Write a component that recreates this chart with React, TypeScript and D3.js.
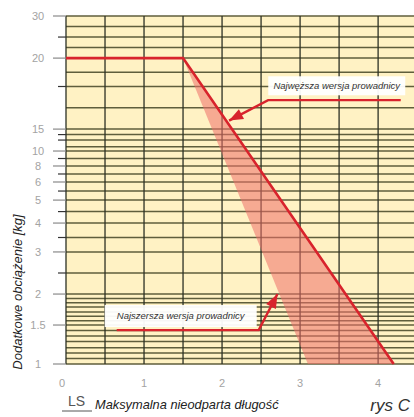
import React from 'react';
import * as d3 from 'd3';

const W = 414;
const H = 417;
const M = { top: 16, right: 0, bottom: 53, left: 66 };

// the original y axis is hand made: labelled stops and their share of the plot height
const yStops = [1, 1.5, 2, 3, 4, 5, 6, 8, 10, 15, 20, 30];
const yStopShare = [0, 0.112, 0.201, 0.322, 0.405, 0.471, 0.523, 0.569, 0.612, 0.675, 0.879, 1];
const yTickLabels = ['1', '1.5', '2', '3', '4', '5', '6', '8', '10', '15', '20', '30'];
const yMinorGrid = [
  1.07, 1.14, 1.21, 1.29, 1.36, 1.43, 1.57, 1.64, 1.71, 1.79, 1.86, 1.93,
  2.5, 3.5, 4.5, 5.5, 7, 9, 11, 12.5, 13.75, 16.5, 18, 19, 22.5, 25, 27.5,
];
const yMinorTicks = [2.5, 3.5, 4.5, 5.5, 7, 9, 12.5, 13.75, 18, 25];

const xTicks = [0, 1, 2, 3, 4];
const xGrid = [0, 0.5, 1, 1.5, 2, 2.5, 3, 3.5, 4];
const xMax = 4.46;

// "Najwęższa" - red line
const narrowX = [0, 1.5, 4.2];
const narrowY = [20, 20, 1];
// "Najszersza" - shaded band
const wideX = [1.5, 3.1, 4.2];
const wideY = [20, 1, 1];

const notes = [
  { text: 'Najwęższa wersja prowadnicy', x: 3.47, y: 18.05, w: 137, h: 19, arrowX: [4.29, 2.59, 2.09], arrowY: [17.04, 17.04, 15.6] },
  { text: 'Najszersza wersja prowadnicy', x: 1.47, y: 1.645, w: 152, h: 22, arrowX: [0.65, 2.47, 2.71], arrowY: [1.434, 1.434, 2] },
];

const RED = '#d8232c';
const FONT = '"Liberation Sans", Arial, sans-serif';

const App = () => {
  const plotH = H - M.top - M.bottom;
  const x = d3.scaleLinear().domain([0, xMax]).range([M.left, W - M.right]);
  const y = d3
    .scaleLinear()
    .domain(yStops)
    .range(yStopShare.map((s) => M.top + plotH * (1 - s)));

  const line = d3.line<[number, number]>().x((d) => x(d[0])).y((d) => y(d[1]));
  const narrowPts = narrowX.map((v, i) => [v, narrowY[i]] as [number, number]);
  const widePts = wideX.map((v, i) => [v, wideY[i]] as [number, number]);

  const arrowHead = (xs: number[], ys: number[]) => {
    const n = xs.length;
    const tx = x(xs[n - 1]);
    const ty = y(ys[n - 1]);
    const px = x(xs[n - 2]);
    const py = y(ys[n - 2]);
    const len = Math.hypot(tx - px, ty - py);
    const ux = (tx - px) / len;
    const uy = (ty - py) / len;
    const L = 14;
    const hw = 5.5;
    const bx = tx - ux * L;
    const by = ty - uy * L;
    return `M${tx},${ty}L${bx - uy * hw},${by + ux * hw}L${bx + uy * hw},${by - ux * hw}Z`;
  };

  const x0 = x(0);
  const x1 = x(xMax);

  return (
    <svg
      width={W}
      height={H}
      style={{ position: 'absolute', left: 0, top: 0, background: '#fff' }}
      fontFamily={FONT}
    >
      <rect x={x0} y={M.top} width={x1 - x0} height={plotH} fill="#fff2c4" />

      {/* horizontal grid */}
      {yMinorGrid.concat(yStops).map((v) => (
        <line key={'h' + v} x1={x0} x2={x1} y1={y(v)} y2={y(v)} stroke="#5f5e3c" strokeWidth={1.5} />
      ))}
      {/* vertical grid */}
      {xGrid.map((v) => (
        <line key={'v' + v} x1={x(v)} x2={x(v)} y1={M.top} y2={y(1)} stroke="#2c3024" strokeWidth={1.3} />
      ))}

      {/* left ticks */}
      {yStops.map((v) => (
        <line key={'t' + v} x1={x0 - 13} x2={x0} y1={y(v)} y2={y(v)} stroke="#8a8a8a" strokeWidth={1.2} />
      ))}
      {yMinorTicks.map((v) => (
        <line key={'m' + v} x1={x0 - 8} x2={x0} y1={y(v)} y2={y(v)} stroke="#333" strokeWidth={1.2} />
      ))}
      {yStops.map((v, i) => (
        <text key={'l' + v} x={x0 - 28} y={y(v)} dy="0.35em" textAnchor="middle" fontSize={11} fill="#a3a3a3">
          {yTickLabels[i]}
        </text>
      ))}
      {xTicks.map((v) => (
        <text key={'xl' + v} x={x(v) - (v === 0 ? 4 : 0)} y={387} textAnchor="middle" fontSize={11} fill="#a3a3a3">
          {v}
        </text>
      ))}

      {/* widest version band */}
      <path d={line(widePts) + 'Z'} fill="#ee6f6a" fillOpacity={0.55} />
      {/* narrowest version line */}
      <path d={line(narrowPts) ?? ''} fill="none" stroke={RED} strokeWidth={2.6} />

      {notes.map((n) => (
        <g key={n.text}>
          <rect
            x={x(n.x) - n.w / 2}
            y={y(n.y) - n.h / 2}
            width={n.w}
            height={n.h}
            fill="#ffffff"
            fillOpacity={0.95}
          />
          <text
            x={x(n.x)}
            y={y(n.y)}
            dy="0.35em"
            textAnchor="middle"
            fontSize={9.5}
            fontStyle="italic"
            fill="#333"
          >
            {n.text}
          </text>
          <path
            d={line(n.arrowX.map((v, i) => [v, n.arrowY[i]] as [number, number])) ?? ''}
            fill="none"
            stroke={RED}
            strokeWidth={2.4}
          />
          <path d={arrowHead(n.arrowX, n.arrowY)} fill={RED} />
        </g>
      ))}

      {/* axis titles */}
      <text
        transform={`translate(17,292) rotate(-90)`}
        textAnchor="middle"
        dy="0.35em"
        fontSize={13}
        fontStyle="italic"
        fill="#222"
      >
        Dodatkowe obciążenie [kg]
      </text>
      <text x={68} y={406} fontSize={14} fill="#555">
        LS
      </text>
      <line x1={62} x2={92} y1={411} y2={411} stroke="#555" strokeWidth={1} />
      <text x={95} y={409} fontSize={12.8} fontStyle="italic" fill="#222">
        Maksymalna nieodparta długość
      </text>
      <text x={410} y={411} textAnchor="end" fontSize={17} fontStyle="italic" fill="#333">
        rys C
      </text>
    </svg>
  );
};

export default App;
